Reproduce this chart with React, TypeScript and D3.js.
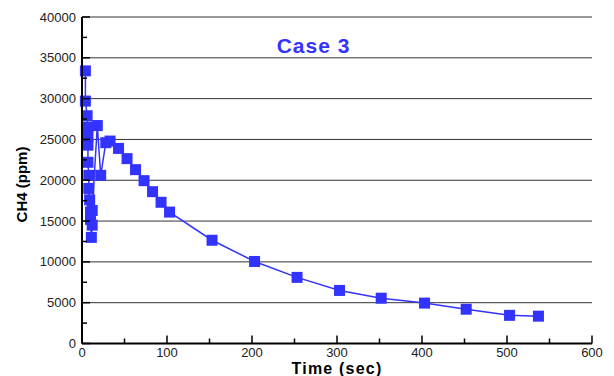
import React from "react";
import * as d3 from "d3";

// Case 3: CH4 concentration vs time
const timeSec = [
  4, 4, 6, 7, 7, 7, 7, 8, 8, 9, 10, 10, 11, 12, 12,
  18, 22, 28, 33, 43, 53, 63, 73, 83, 93, 103,
  153, 203, 253, 303, 352, 403, 452, 503, 537,
];
const ch4Ppm = [
  33400, 29700, 27900, 26500, 25300, 24300, 22200, 20600, 19000, 17600, 16100, 15200, 13000, 14500, 16300,
  26700, 20600, 24600, 24800, 23900, 22650, 21300, 19950, 18600, 17300, 16100,
  12650, 10050, 8100, 6500, 5550, 4950, 4200, 3450, 3350,
];
const xTicks = [0, 100, 200, 300, 400, 500, 600];
const xMinor = [50, 150, 250, 350, 450, 550];
const yTicks = [0, 5000, 10000, 15000, 20000, 25000, 30000, 35000, 40000];
const yMinor = [2500, 7500, 12500, 17500, 22500, 27500, 32500, 37500];

export default function App() {
  const width = 614;
  const height = 376;
  const blue = "#3333ff";
  const font = "'Liberation Sans', Arial, Helvetica, sans-serif";

  const x = d3.scaleLinear().domain([0, 600]).range([82, 592]);
  const y = d3.scaleLinear().domain([0, 40000]).range([343.5, 17]);

  const points = timeSec.map((t, i) => [t, ch4Ppm[i]] as [number, number]);
  const line = d3
    .line<[number, number]>()
    .x((d) => x(d[0]))
    .y((d) => y(d[1]));

  const m = 11; // marker size

  return (
    <svg
      width={width}
      height={height}
      style={{ position: "absolute", left: 0, top: 0, background: "#fff" }}
      fontFamily={font}
    >
      {/* gridlines */}
      {yTicks.slice(1).map((t) => (
        <line key={t} x1={x(0)} x2={x(600)} y1={y(t)} y2={y(t)} stroke="#333" strokeWidth={1} />
      ))}

      {/* series */}
      <path d={line(points) || undefined} fill="none" stroke={blue} strokeWidth={1.5} />
      {points.map((p, i) => (
        <rect key={i} x={x(p[0]) - m / 2} y={y(p[1]) - m / 2} width={m} height={m} fill={blue} />
      ))}

      {/* axes */}
      <line x1={x(0)} x2={x(0)} y1={y(0)} y2={y(40000)} stroke="#000" strokeWidth={2} />
      <line x1={x(0)} x2={x(600)} y1={y(0)} y2={y(0)} stroke="#000" strokeWidth={2} />
      {yTicks.map((t) => (
        <g key={t}>
          <line x1={x(0)} x2={x(0) + 8} y1={y(t)} y2={y(t)} stroke="#000" strokeWidth={1.5} />
          <text x={76} y={y(t) + 4.5} textAnchor="end" fontSize={13} fill="#222">
            {t}
          </text>
        </g>
      ))}
      {yMinor.map((t) => (
        <line key={t} x1={x(0)} x2={x(0) + 5} y1={y(t)} y2={y(t)} stroke="#000" strokeWidth={1.5} />
      ))}
      {xTicks.map((t) => (
        <g key={t}>
          <line x1={x(t)} x2={x(t)} y1={y(0)} y2={y(0) - 8} stroke="#000" strokeWidth={1.5} />
          <text x={x(t)} y={357} textAnchor="middle" fontSize={13} fill="#222">
            {t}
          </text>
        </g>
      ))}
      {xMinor.map((t) => (
        <line key={t} x1={x(t)} x2={x(t)} y1={y(0)} y2={y(0) - 5} stroke="#000" strokeWidth={1.5} />
      ))}

      {/* labels */}
      <text x={337} y={373.5} textAnchor="middle" fontSize={16} fontWeight="bold" letterSpacing={1.2}>
        Time (sec)
      </text>
      <text
        transform={`translate(26.5,184.5) rotate(-90)`}
        textAnchor="middle"
        fontSize={15}
        fontWeight="bold"
      >
        CH4 (ppm)
      </text>
      <text x={313.5} y={52.7} textAnchor="middle" fontSize={21} fontWeight="bold" fill={blue} letterSpacing={1}>
        Case 3
      </text>
    </svg>
  );
}
